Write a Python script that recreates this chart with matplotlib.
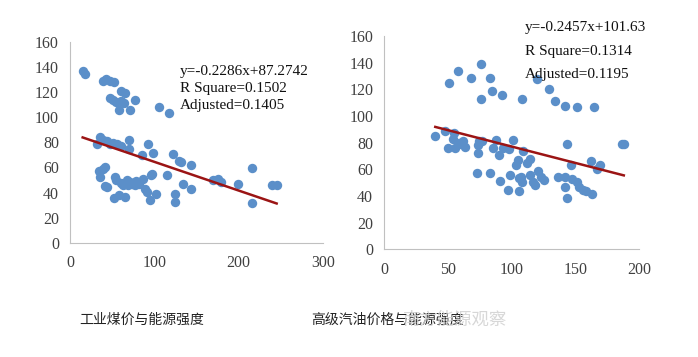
import numpy as np
import matplotlib
matplotlib.use('Agg')
import matplotlib.pyplot as plt

plt.rcParams['font.family'] = ['Liberation Serif', 'Noto Sans CJK SC', 'DejaVu Sans']

# 左图: 工业煤价 vs 能源强度
coal_x = [15, 18, 39.5, 43, 47, 52, 48, 51, 54.5, 57.6, 61, 64, 61, 65, 71, 77.4, 105, 117.6,
          31.6, 36, 39.5, 44, 47, 51, 56, 60, 69.5, 70, 85, 92, 98.7, 122, 129.5, 132, 144,
          34.7, 39.5, 42, 35.5, 44, 42, 53, 55, 61, 67, 71, 74, 78, 82, 86, 63, 69, 76.6,
          52, 57.6, 65.5, 88.4, 90.8, 94.7, 97, 95.5, 102, 115, 124, 124.7, 133.4, 143.7,
          169, 176, 179, 199, 216, 216, 239, 245]
coal_y = [137, 134, 129, 130.5, 129, 128, 115, 113.5, 112, 106, 112.5, 111, 121, 119.4, 105.6, 113.6, 107.7, 103.5,
          79, 84, 81.7, 81, 78.5, 79.6, 78.5, 77, 82, 75, 70, 78.5, 71.6, 71, 64.7, 64, 62,
          57, 59, 60, 52, 44.5, 45, 52, 50, 47.8, 50, 48.3, 46.7, 48.8, 47, 50.4, 45.6, 46, 45.6,
          36, 38, 36.6, 42.4, 40.3, 34, 55, 54, 39, 54, 39, 32.4, 46.7, 43,
          50, 51, 48, 46.7, 59.4, 31.8, 46, 46]
coal_fit = (-0.2286, 87.2742)
coal_fit_range = [15, 245]
coal_text = ['y=-0.2286x+87.2742', 'R Square=0.1502', 'Adjusted=0.1405']

# 右图: 高级汽油价格 vs 能源强度
gas_x = [40, 48, 50, 50.5, 55, 53.7, 55.8, 57.9, 58.4, 62, 63, 60, 68, 73.6, 73.6, 74, 76.7, 73, 76, 76,
         83, 84.6, 83, 85, 87.7, 89.8, 91, 92, 93.5, 97.6, 97, 98.7, 101, 103, 105, 105.5, 105.5, 108,
         108.6, 108, 107, 111.8, 114.4, 114.4, 117, 118, 119.6, 121, 122.8, 125.4, 129.6, 134, 136,
         141.6, 142, 141.6, 143.7, 143.7, 146.9, 147.4, 151, 151, 152.6, 155.8, 158, 162, 163, 164.6,
         167, 169, 186.6, 188]
gas_y = [85, 89, 76, 125, 87.5, 83, 76, 133.5, 80, 81.5, 77, 79, 128.5, 72, 78.5, 81.5, 81.5, 57.5, 139, 113,
         128.5, 119, 57, 76, 82, 70.5, 51.5, 116, 76, 75.5, 44.5, 55.5, 82, 63.5, 67, 53.5, 44, 113,
         74, 50.5, 54.5, 65, 68, 56, 50.5, 48, 128, 58.5, 54, 52, 120, 111, 54,
         54.5, 107.5, 47, 79, 38.5, 63, 52.5, 106.5, 50.5, 47, 44.5, 44, 66.5, 41.5, 106.5,
         60, 63, 79, 79]
gas_fit = (-0.2457, 101.63)
gas_fit_range = [40, 188]
gas_text = ['y=-0.2457x+101.63', 'R Square=0.1314', 'Adjusted=0.1195']

dot_color = '#5b8fc9'
line_color = '#9b1414'


def style_ax(ax, xmax, xstep):
    ax.set_xlim(0, xmax)
    ax.set_ylim(0, 160)
    ax.set_xticks(np.arange(0, xmax + 1, xstep))
    ax.set_yticks(np.arange(0, 161, 20))
    for s in ['top', 'right']:
        ax.spines[s].set_visible(False)
    for s in ['left', 'bottom']:
        ax.spines[s].set_color('#c0c0c0')
        ax.spines[s].set_linewidth(0.8)
    ax.tick_params(length=0, labelsize=11.5, labelcolor='#404040')
    ax.tick_params(axis='y', pad=8)
    ax.tick_params(axis='x', pad=9)


fig = plt.figure(figsize=(6.98, 3.57), dpi=100)

ax1 = fig.add_axes([0.1003, 0.320, 0.3625, 0.563])
ax1.scatter(coal_x, coal_y, s=46, color=dot_color, zorder=2, linewidths=0)
fx = np.array(coal_fit_range)
ax1.plot(fx, coal_fit[0] * fx + coal_fit[1], color=line_color, lw=1.8, zorder=3)
style_ax(ax1, 300, 100)
for t, yy in zip(coal_text, [136, 123, 109]):
    ax1.text(130, yy, t, fontsize=11, va='center', ha='left', color='#111111')

ax2 = fig.add_axes([0.5506, 0.3017, 0.365, 0.5975])
ax2.scatter(gas_x, gas_y, s=46, color=dot_color, zorder=2, linewidths=0)
fx = np.array(gas_fit_range)
ax2.plot(fx, gas_fit[0] * fx + gas_fit[1], color=line_color, lw=1.8, zorder=3)
style_ax(ax2, 200, 50)
for t, yy in zip(gas_text, [166.5, 148, 131]):
    ax2.text(110.5, yy, t, fontsize=11, va='center', ha='left', color='#111111', clip_on=False)

fig.text(142 / 698, 1 - 320 / 357, '工业煤价与能源强度', fontsize=10, ha='center', va='center',
         family=['Noto Sans CJK SC', 'DejaVu Sans'], color='#222222')
fig.text(388 / 698, 1 - 320 / 357, '高级汽油价格与能源强度', fontsize=10, ha='center', va='center',
         family=['Noto Sans CJK SC', 'DejaVu Sans'], color='#222222')
fig.text(455 / 698, 1 - 320 / 357, '南方能源观察', fontsize=12.5, ha='center', va='center',
         family=['Noto Sans CJK SC', 'DejaVu Sans'], color='#d0d0d0', alpha=0.85)

fig.savefig('out.png', dpi=100)
